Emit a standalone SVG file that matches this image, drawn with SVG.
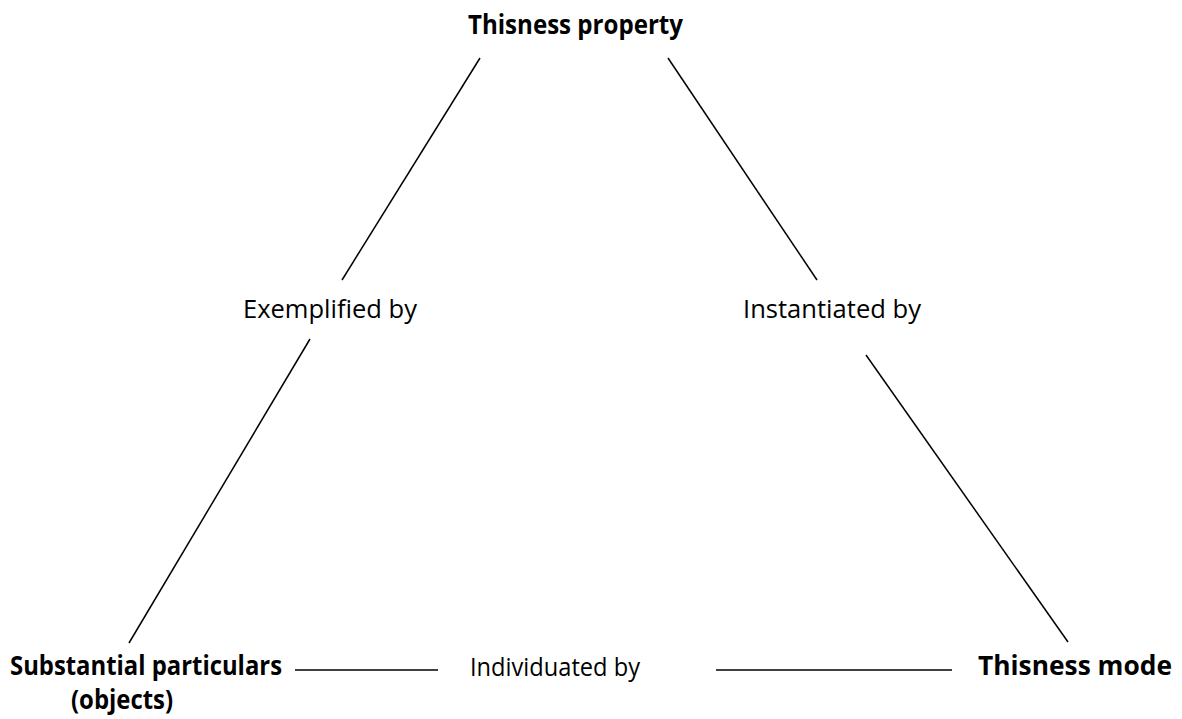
<svg xmlns="http://www.w3.org/2000/svg" width="1182" height="719" viewBox="0 0 1182 719">
<style>
.t{font-family:"Open Sans","Noto Sans","Liberation Sans",sans-serif;font-size:25px;fill:#000}
.b{font-weight:bold;font-size:26px}
.c line{stroke:#000;stroke-width:1.5}
</style>
<rect width="1182" height="719" fill="#fff"/>
<g class="c" id="connectors">
<line x1="480" y1="58" x2="342" y2="280"/>
<line x1="668" y1="58" x2="817" y2="280"/>
<line x1="310" y1="339" x2="129" y2="643"/>
<line x1="866" y1="355" x2="1068" y2="642"/>
<line x1="295" y1="670" x2="438" y2="670"/>
<line x1="716" y1="670" x2="952" y2="670"/>
</g>
<g id="thisness-property"><text class="t b" x="468" y="34" textLength="215" lengthAdjust="spacingAndGlyphs">Thisness property</text></g>
<g id="exemplified"><text class="t" x="243" y="318" textLength="174" lengthAdjust="spacingAndGlyphs">Exemplified by</text></g>
<g id="instantiated"><text class="t" x="743" y="318" textLength="178" lengthAdjust="spacingAndGlyphs">Instantiated by</text></g>
<g id="substantial"><text class="t b" x="10" y="675" textLength="272" lengthAdjust="spacingAndGlyphs">Substantial particulars</text><text class="t b" x="71" y="709" textLength="102" lengthAdjust="spacingAndGlyphs">(objects)</text></g>
<g id="individuated"><text class="t" x="470" y="676" textLength="170" lengthAdjust="spacingAndGlyphs">Individuated by</text></g>
<g id="thisness-mode"><text class="t b" x="978" y="675" textLength="194" lengthAdjust="spacingAndGlyphs">Thisness mode</text></g>
</svg>
